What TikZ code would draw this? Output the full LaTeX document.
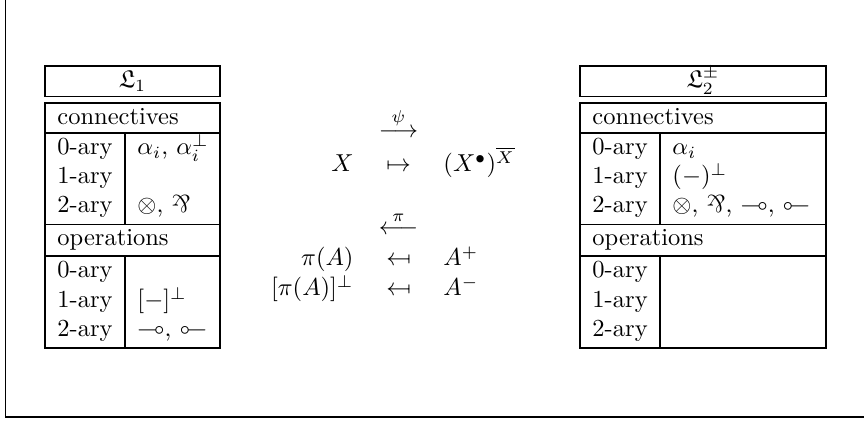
\documentclass[tikz,border=0pt]{standalone}
\usepackage{amssymb}
\usepackage{graphicx}
\newcommand{\myparr}{\mathbin{\rotatebox[origin=c]{180}{$\&$}}}
\newcommand{\mymmapinv}{\mathbin{\reflectbox{$\multimap$}}}
\newcommand{\mymapsfrom}{\mathrel{\reflectbox{$\mapsto$}}}
\begin{document}
\begin{tikzpicture}[x=0.4082pt,y=-0.4082pt,
  rule/.style={line width=0.75pt},
  txt/.style={inner sep=0pt,anchor=base west},
  txtc/.style={inner sep=0pt,anchor=base},
  txte/.style={inner sep=0pt,anchor=base east}]
\useasboundingbox (0,0) rectangle (864,423);
% frame
\draw[line width=0.8pt] (5.5,0) -- (5.5,417) -- (864,417);
% ---------- left table
\draw[rule] (45,66) rectangle (220,96.5);
\draw[rule] (45,103) rectangle (220,348);
\draw[rule] (45,133) -- (220,133);
\draw[rule] (45,224.5) -- (220,224.5);
\draw[rule] (45,256) -- (220,256);
\draw[rule] (125,133) -- (125,224.5);
\draw[rule] (125,256) -- (125,348);
\node[txtc] (l1title) at (132.5,88) {$\mathfrak{L}_1$};
\node[txt] (l1con) at (57,125) {connectives};
\node[txt] (l1c0) at (57,155) {0-ary};
\node[txt] (l1c1) at (57,184) {1-ary};
\node[txt] (l1c2) at (57,213) {2-ary};
\node[txt] (l1c0v) at (137,155) {$\alpha_i$, $\alpha_i^{\perp}$};
\node[txt] (l1c2v) at (137,213) {$\otimes$, $\myparr$};
\node[txt] (l1op) at (57,246) {operations};
\node[txt] (l1o0) at (57,278) {0-ary};
\node[txt] (l1o1) at (57,308) {1-ary};
\node[txt] (l1o2) at (57,337) {2-ary};
\node[txt] (l1o1v) at (137,308) {$[-]^{\perp}$};
\node[txt] (l1o2v) at (137,337) {$\multimap$, $\mymmapinv$};
% ---------- right table
\draw[rule] (580,66) rectangle (826,96.5);
\draw[rule] (580,103) rectangle (826,348);
\draw[rule] (580,133) -- (826,133);
\draw[rule] (580,224.5) -- (826,224.5);
\draw[rule] (580,256) -- (826,256);
\draw[rule] (660,133) -- (660,224.5);
\draw[rule] (660,256) -- (660,348);
\node[txtc] (l2title) at (703,88) {$\mathfrak{L}_2^{\pm}$};
\node[txt] (l2con) at (592,125) {connectives};
\node[txt] (l2c0) at (592,155) {0-ary};
\node[txt] (l2c1) at (592,184) {1-ary};
\node[txt] (l2c2) at (592,213) {2-ary};
\node[txt] (l2c0v) at (672,155) {$\alpha_i$};
\node[txt] (l2c1v) at (672,184) {$(-)^{\perp}$};
\node[txt] (l2c2v) at (672,213) {$\otimes$, $\myparr$, $\multimap$, $\mymmapinv$};
\node[txt] (l2op) at (592,246) {operations};
\node[txt] (l2o0) at (592,278) {0-ary};
\node[txt] (l2o1) at (592,308) {1-ary};
\node[txt] (l2o2) at (592,337) {2-ary};
% ---------- middle
\node[txtc] (psi) at (398.5,138) {$\stackrel{\psi}{\longrightarrow}$};
\node[txte] (X) at (354,172) {$X$};
\node[txtc] (mt) at (398.5,172) {$\mapsto$};
\node[txt] (XX) at (443,172) {$(X^{\bullet})^{\overline{X}}$};
\node[txtc] (piarr) at (398.5,235) {$\stackrel{\pi}{\longleftarrow}$};
\node[txte] (piA) at (354,266) {$\pi(A)$};
\node[txtc] (mf1) at (398.5,266) {$\mymapsfrom$};
\node[txt] (Ap) at (443,266) {$A^{+}$};
\node[txte] (piAp) at (354,296) {$[\pi(A)]^{\perp}$};
\node[txtc] (mf2) at (398.5,296) {$\mymapsfrom$};
\node[txt] (Am) at (443,296) {$A^{-}$};
\end{tikzpicture}
\end{document}
